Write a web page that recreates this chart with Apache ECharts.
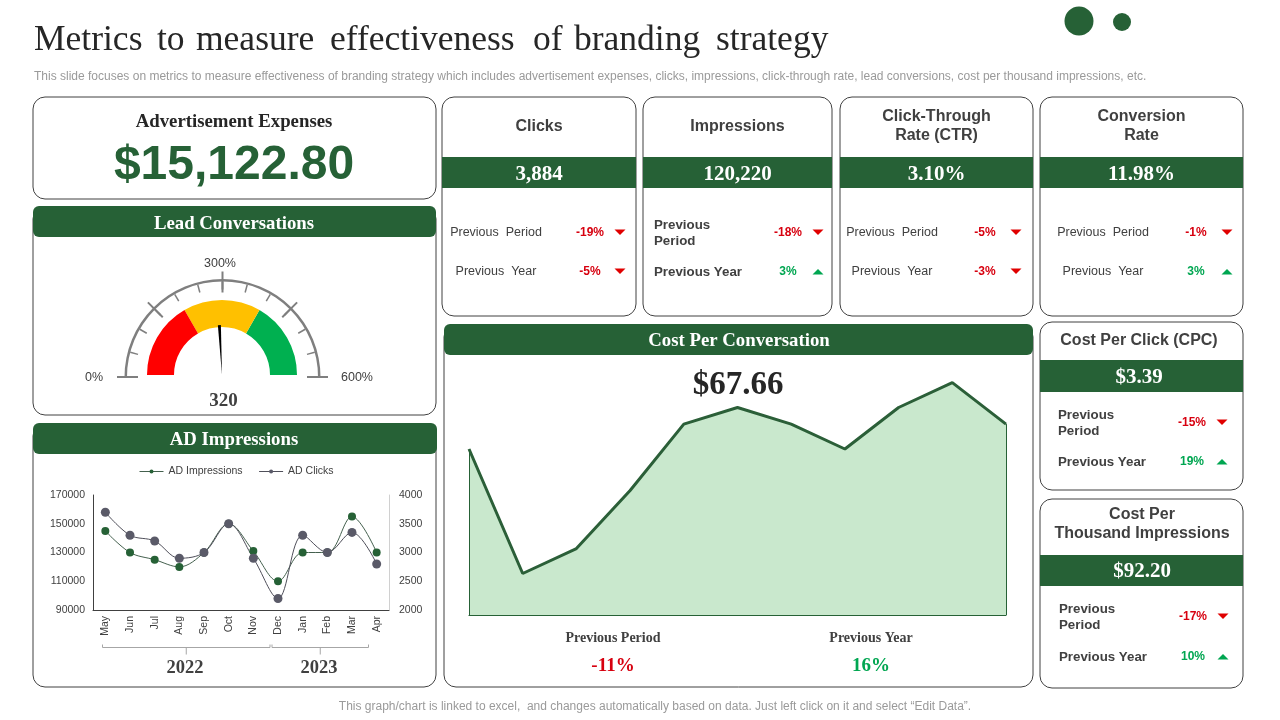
<!DOCTYPE html>
<html lang="en">

<head>
    <meta charset="utf-8" />
    <title>Metrics to measure effectiveness of branding strategy</title>
    <style>
        html,
        body,
        #myChart {
            width: 100%;
            height: 100%;
            margin: 0;
            padding: 0;
            overflow: hidden;
            background: #fff;
        }
    </style>
</head>

<body>
    <div id="myChart"></div>
    <script src="https://cdn.jsdelivr.net/npm/echarts@6/dist/echarts.min.js"></script>
    <script>
        // chart values
        var months = ['May', 'Jun', 'Jul', 'Aug', 'Sep', 'Oct', 'Nov', 'Dec', 'Jan', 'Feb', 'Mar', 'Apr'];
        var adImpressions = [145000, 130000, 125000, 120000, 130000, 150000, 131000, 110000, 130000, 130000, 155000, 130000];
        var adClicks = [3700, 3300, 3200, 2900, 3000, 3500, 2900, 2200, 3300, 3000, 3350, 2800];
        var impressionTicks = [90000, 110000, 130000, 150000, 170000];
        var costPoints = ['1', '2', '3', '4', '5', '6', '7', '8', '9', '10', '11'];
        var costValues = [20, 5, 8, 15, 23, 25, 23, 20, 25, 28, 23];
        var gaugeNeedle = 290;
        var gaugeLabel = '320';
        var gaugeBands = [200, 400, 600];

        // kpi texts
        var kpiTitles = [['Clicks'], ['Impressions'], ['Click-Through', 'Rate (CTR)'], ['Conversion', 'Rate']];
        var kpiValues = ['3,884', '120,220', '3.10%', '11.98%'];
        var kpiPeriod = ['-19%', '-18%', '-5%', '-1%'];
        var kpiYear = ['-5%', '3%', '-3%', '3%'];

        var GREEN = '#266136';
        var RED = '#d7000f';
        var UP = '#00a651';
        var TEXT = '#404040';
        var SANS = '"Liberation Sans", Arial, sans-serif';
        var SERIF = '"Liberation Serif", "Times New Roman", serif';

        var g = [];

        function txt(s, x, y, font, fill, align) {
            g.push({
                type: 'text', silent: true,
                style: { text: s, x: x, y: y + 1, font: font, fill: fill || TEXT, textAlign: align || 'center', textVerticalAlign: 'middle' }
            });
        }
        function card(x, y, w, h) {
            g.push({
                type: 'rect', silent: true,
                shape: { x: x, y: y, width: w, height: h, r: 12 },
                style: { fill: '#fff', stroke: '#404040', lineWidth: 1 }
            });
        }
        function band(x, y, w, h, r) {
            g.push({
                type: 'rect', silent: true,
                shape: { x: x, y: y, width: w, height: h, r: r || 0 },
                style: { fill: GREEN }
            });
        }
        function arrow(x, y, value) {
            var down = value.charAt(0) === '-';
            var pts = down ? [[x - 5.5, y - 2.5], [x + 5.5, y - 2.5], [x, y + 3]] : [[x - 5.5, y + 3.5], [x + 5.5, y + 3.5], [x, y - 2]];
            g.push({ type: 'polygon', silent: true, shape: { points: pts }, style: { fill: down ? '#e00000' : UP } });
        }
        function delta(value, cx, arrowX, y) {
            txt(value, cx, y, 'bold 12px ' + SANS, value.charAt(0) === '-' ? RED : UP);
            arrow(arrowX, y, value);
        }
        function bracket(x1, x2, y) {
            var c = '#a6a6a6';
            g.push({ type: 'polyline', silent: true, shape: { points: [[x1, y - 3], [x1, y], [x2, y], [x2, y - 3]] }, style: { fill: 'none', stroke: c, lineWidth: 1 } });
            g.push({ type: 'line', silent: true, shape: { x1: (x1 + x2) / 2, y1: y, x2: (x1 + x2) / 2, y2: y + 7 }, style: { stroke: c, lineWidth: 1 } });
        }

        // heading, placed word by word for the wide gaps
        var headWords = ['Metrics', 'to', 'measure', 'effectiveness', 'of', 'branding', 'strategy'];
        var headX = [34, 157, 196, 330, 533, 574, 716];
        headWords.forEach(function (w, i) {
            txt(w, headX[i], 40, '35.5px ' + SERIF, '#262626', 'left');
        });
        txt('This slide focuses on metrics to measure effectiveness of branding strategy which includes advertisement expenses, clicks, impressions, click-through rate, lead conversions, cost per thousand impressions, etc.', 34, 76, '12px ' + SANS, '#9a9a9a', 'left');
        g.push({ type: 'circle', silent: true, shape: { cx: 1079, cy: 21, r: 14.5 }, style: { fill: GREEN } });
        g.push({ type: 'circle', silent: true, shape: { cx: 1122, cy: 22, r: 9 }, style: { fill: GREEN } });
        txt('This graph/chart is linked to excel,  and changes automatically based on data. Just left click on it and select “Edit Data”.', 655, 706, '12px ' + SANS, '#9a9a9a');

        // advertisement expenses
        card(33, 97, 403, 102);
        txt('Advertisement Expenses', 234, 121.5, 'bold 18.8px ' + SERIF, '#262626');
        txt('$15,122.80', 234, 165, 'bold 48px ' + SANS, GREEN);

        // lead conversations
        card(33, 207, 403, 208);
        band(33, 206, 403, 31, 6);
        txt('Lead Conversations', 234, 223, 'bold 18.8px ' + SERIF, '#fff');
        txt('300%', 220, 263, '12.5px ' + SANS, TEXT);
        txt('0%', 94, 377, '12.5px ' + SANS, TEXT);
        txt('600%', 357, 377, '12.5px ' + SANS, TEXT);
        txt(gaugeLabel, 223.5, 400.5, 'bold 19px ' + SERIF, TEXT);

        // ad impressions
        card(33, 424, 403, 263);
        band(33, 423, 404, 31, 6);
        txt('AD Impressions', 234, 439.5, 'bold 18.8px ' + SERIF, '#fff');
        bracket(102.5, 270, 647.5);
        bracket(272, 368.5, 647.5);
        txt('2022', 185, 667.5, 'bold 18.5px ' + SERIF, TEXT);
        txt('2023', 319, 667.5, 'bold 18.5px ' + SERIF, TEXT);

        // cost per conversation
        card(444, 325, 589, 362);
        band(444, 324, 589, 31, 6);
        txt('Cost Per Conversation', 739, 340.5, 'bold 18.8px ' + SERIF, '#fff');
        txt('$67.66', 738, 384, 'bold 33px ' + SERIF, '#262626');
        txt('Previous Period', 613, 637.5, 'bold 14px ' + SERIF, TEXT);
        txt('Previous Year', 871, 637.5, 'bold 14px ' + SERIF, TEXT);
        txt('-11%', 613, 665, 'bold 19px ' + SERIF, RED);
        txt('16%', 871, 665, 'bold 19px ' + SERIF, UP);

        // top kpi cards
        var kpiBox = [[442, 194], [643, 189], [840, 193], [1040, 203]];
        var kpiLabelX = [496, 0, 892, 1103];
        var kpiPctX = [590, 788, 985, 1196];
        var kpiArrowX = [620, 818, 1016, 1227];
        kpiTitles.forEach(function (title, i) {
            var x = kpiBox[i][0], w = kpiBox[i][1], cx = x + w / 2;
            card(x, 97, w, 219);
            band(x, 157, w, 31);
            if (title.length === 1) {
                txt(title[0], cx, 126, 'bold 16px ' + SANS, TEXT);
            } else {
                txt(title[0], cx, 116, 'bold 16px ' + SANS, TEXT);
                txt(title[1], cx, 135, 'bold 16px ' + SANS, TEXT);
            }
            txt(kpiValues[i], cx, 174, 'bold 21px ' + SERIF, '#fff');
            if (i === 1) {
                txt('Previous', 654, 224, 'bold 13.3px ' + SANS, TEXT, 'left');
                txt('Period', 654, 240, 'bold 13.3px ' + SANS, TEXT, 'left');
                txt('Previous Year', 654, 271, 'bold 13.3px ' + SANS, TEXT, 'left');
            } else {
                txt('Previous  Period', kpiLabelX[i], 232, '12.5px ' + SANS, TEXT);
                txt('Previous  Year', kpiLabelX[i], 271, '12.5px ' + SANS, TEXT);
            }
            delta(kpiPeriod[i], kpiPctX[i], kpiArrowX[i], 232);
            delta(kpiYear[i], kpiPctX[i], kpiArrowX[i], 271);
        });

        // cost per click
        card(1040, 322, 203, 168);
        band(1040, 360, 203, 32);
        txt('Cost Per Click (CPC)', 1139, 340, 'bold 16px ' + SANS, TEXT);
        txt('$3.39', 1139, 377, 'bold 21px ' + SERIF, '#fff');
        txt('Previous', 1058, 414, 'bold 13.3px ' + SANS, TEXT, 'left');
        txt('Period', 1058, 430, 'bold 13.3px ' + SANS, TEXT, 'left');
        txt('Previous Year', 1058, 461, 'bold 13.3px ' + SANS, TEXT, 'left');
        delta('-15%', 1192, 1222, 422);
        delta('19%', 1192, 1222, 461);

        // cost per thousand impressions
        card(1040, 499, 203, 189);
        band(1040, 555, 203, 31);
        txt('Cost Per', 1142, 514, 'bold 16px ' + SANS, TEXT);
        txt('Thousand Impressions', 1142, 533, 'bold 16px ' + SANS, TEXT);
        txt('$92.20', 1142, 571, 'bold 21px ' + SERIF, '#fff');
        txt('Previous', 1059, 608, 'bold 13.3px ' + SANS, TEXT, 'left');
        txt('Period', 1059, 624, 'bold 13.3px ' + SANS, TEXT, 'left');
        txt('Previous Year', 1059, 656, 'bold 13.3px ' + SANS, TEXT, 'left');
        delta('-17%', 1193, 1223, 616);
        delta('10%', 1193, 1223, 656);

        function plainNumber(v) {
            return String(v);
        }

        var myChart = echarts.init(document.getElementById('myChart'));
        var option = {
            animation: false,
            graphic: g,
            legend: {
                data: ['AD Impressions', 'AD Clicks'],
                left: 134, top: 461,
                itemWidth: 24, itemHeight: 5, itemGap: 16,
                lineStyle: { width: 1 },
                textStyle: { fontFamily: SANS, fontSize: 10.5, color: TEXT }
            },
            grid: [
                { left: 93, top: 495, width: 296, height: 115 },
                { left: 469, top: 366, width: 537, height: 249 }
            ],
            xAxis: [{
                type: 'category', gridIndex: 0, data: months,
                axisLine: { lineStyle: { color: TEXT, width: 1 } },
                axisTick: { show: false },
                axisLabel: { interval: 0, rotate: 90, margin: 6, fontFamily: SANS, fontSize: 10.5, color: TEXT }
            }, {
                type: 'category', gridIndex: 1, data: costPoints, boundaryGap: false,
                axisLine: { lineStyle: { color: GREEN, width: 1.2 } },
                axisTick: { show: false },
                axisLabel: { show: false }
            }],
            yAxis: [{
                type: 'value', gridIndex: 0, min: 90000, max: 170000,
                axisLine: { show: true, lineStyle: { color: TEXT, width: 1 } },
                axisTick: { show: false },
                splitLine: { show: false },
                axisLabel: { customValues: impressionTicks, formatter: plainNumber, margin: 8, fontFamily: SANS, fontSize: 10.5, color: TEXT }
            }, {
                type: 'value', gridIndex: 0, position: 'right', min: 2000, max: 4000, interval: 500,
                axisLine: { show: true, lineStyle: { color: '#d0d0d0', width: 1 } },
                axisTick: { show: false },
                splitLine: { show: false },
                axisLabel: { formatter: plainNumber, margin: 10, fontFamily: SANS, fontSize: 10.5, color: TEXT }
            }, {
                type: 'value', gridIndex: 1, min: 0, max: 30,
                axisLine: { show: false }, axisTick: { show: false },
                splitLine: { show: false }, axisLabel: { show: false }
            }],
            series: [{
                // coloured bands and needle
                type: 'gauge', center: [222, 375], radius: 75,
                startAngle: 180, endAngle: 0, min: 0, max: 600,
                axisLine: {
                    lineStyle: {
                        width: 27,
                        color: [[gaugeBands[0] / 600, '#ff0000'], [gaugeBands[1] / 600, '#ffc000'], [gaugeBands[2] / 600, '#00b050']]
                    }
                },
                axisTick: { show: false }, splitLine: { show: false }, axisLabel: { show: false },
                pointer: { icon: 'path://M0 0L10 0L5 100Z', width: 3, length: 50, itemStyle: { color: '#000' } },
                anchor: { show: false }, title: { show: false }, detail: { show: false },
                data: [{ value: gaugeNeedle }]
            }, {
                // outer scale
                type: 'gauge', center: [222.5, 377], radius: 98,
                startAngle: 180, endAngle: 0, min: 0, max: 600, splitNumber: 4,
                axisLine: { lineStyle: { width: 2.5, color: [[1, '#7f7f7f']] } },
                splitLine: { distance: -10, length: 21, lineStyle: { color: '#7f7f7f', width: 2 } },
                axisTick: { splitNumber: 3, distance: 0, length: 8, lineStyle: { color: '#7f7f7f', width: 1.5 } },
                axisLabel: { show: false }, pointer: { show: false }, anchor: { show: false },
                title: { show: false }, detail: { show: false },
                data: [{ value: 0 }]
            }, {
                name: 'AD Impressions', type: 'line', xAxisIndex: 0, yAxisIndex: 0,
                data: adImpressions, smooth: 0.35, symbol: 'circle', symbolSize: 8,
                lineStyle: { width: 1, color: '#44604e' }, itemStyle: { color: GREEN }
            }, {
                name: 'AD Clicks', type: 'line', xAxisIndex: 0, yAxisIndex: 1,
                data: adClicks, smooth: 0.35, symbol: 'circle', symbolSize: 9,
                lineStyle: { width: 1, color: '#4f4f5a' }, itemStyle: { color: '#5a5a68' }
            }, {
                type: 'line', xAxisIndex: 1, yAxisIndex: 2,
                data: costValues, symbol: 'none',
                lineStyle: { width: 3, color: '#2b5f38' },
                areaStyle: { color: '#c9e8cd', opacity: 1 },
                markLine: {
                    silent: true, symbol: 'none', label: { show: false },
                    lineStyle: { color: GREEN, width: 1, type: 'solid' },
                    data: [
                        [{ xAxis: 0, yAxis: 0 }, { xAxis: 0, yAxis: costValues[0] }],
                        [{ xAxis: costValues.length - 1, yAxis: 0 }, { xAxis: costValues.length - 1, yAxis: costValues[costValues.length - 1] }]
                    ]
                }
            }]
        };
        myChart.setOption(option);
    </script>
</body>

</html>
